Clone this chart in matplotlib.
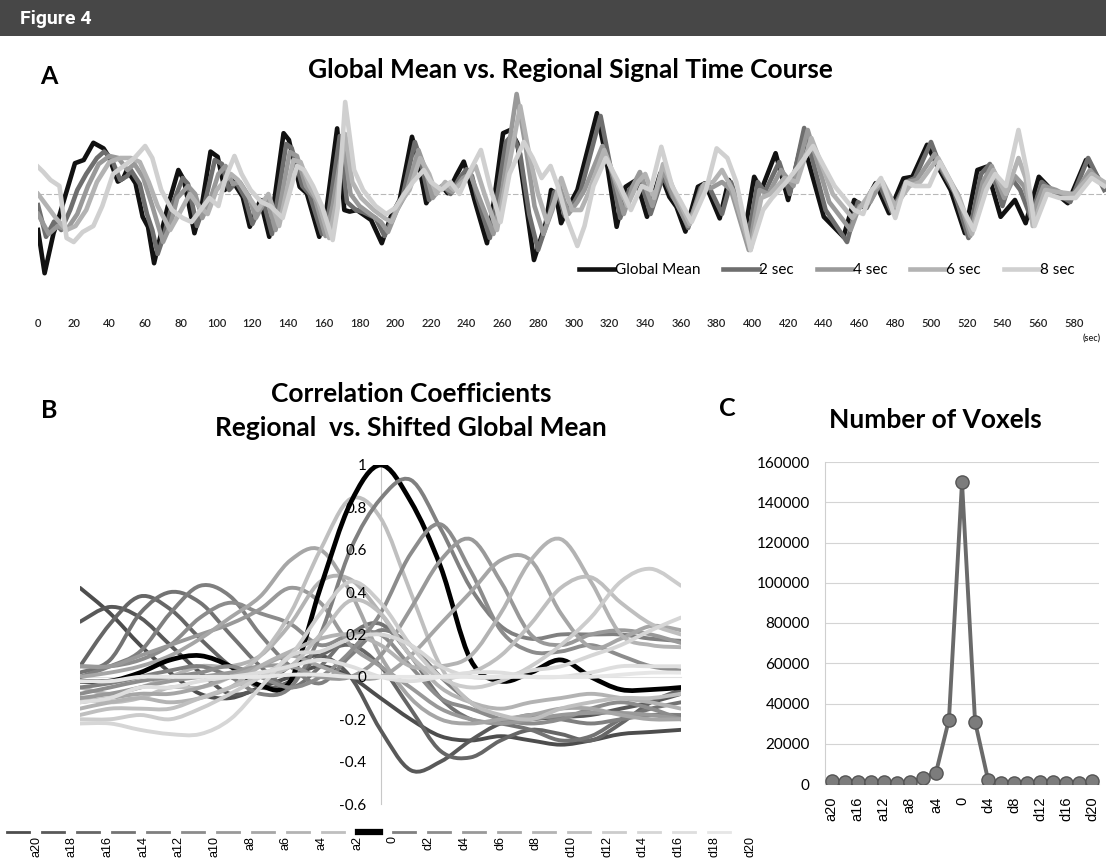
import numpy as np
import matplotlib
matplotlib.use("Agg")
import matplotlib.pyplot as plt
from matplotlib.path import Path
from matplotlib.patches import PathPatch, Rectangle
from matplotlib.lines import Line2D

W, H = 1106, 859

# ---------------- Panel A: time courses (sec, relative signal) ----------------
gm_t = [0, 3.7, 8.7, 10.7, 20.7, 25.6, 31, 36.7, 39.7, 44.7, 47.7, 49.8, 54.6, 58.6, 61.6, 65, 67.6, 72.6,
        78.6, 81.7, 87.6, 91.6, 96.6, 100.6, 104.6, 108.6, 114.6, 118.6, 124.5, 129.5, 137.5, 140.5, 146.5,
        150.5, 157.5, 161.5, 167.5, 171.5, 174.5, 178.5, 186.5, 192.5, 197.5, 202.5, 209.4, 212.4, 217.4,
        221.4, 226.4, 229.4, 234.4, 238.4, 240.4, 244.4, 251.4, 255.4, 260.4, 264.4, 268.4, 277.7, 284.3,
        287.3, 289.8, 292.9, 297, 302, 313, 318, 324, 329, 335, 341, 348.5, 353.5, 357.5, 362.5, 369.5,
        373.5, 381.7, 386.8, 395.9, 401, 405, 413, 420, 428, 440, 451, 457, 462, 469, 476.5, 484.6, 489.6,
        497.8, 503.9, 511, 519, 526, 531, 539, 547, 553, 560.4, 567.5, 576.6, 586.8, 597]
gm_v = [-0.9, -1.98, -0.98, -0.73, 0.77, 0.85, 1.28, 1.14, 0.93, 0.31, 0.39, 0.6, 0.27, -0.57, -0.82, -1.73,
        -1.23, -0.32, 0.6, 0.35, -0.98, -0.32, 1.06, 0.93, 0.1, 0.35, -0.07, -0.82, -0.15, -1.07, 1.52, 1.35,
        0.18, 0.02, -1.07, -0.4, 1.64, -0.4, -0.44, -0.4, -0.65, -1.23, -0.57, -0.15, 1.43, 0.93, -0.23, 0.1,
        0.18, 0.02, 0.48, 0.81, 0.52, -0.15, -1.23, -0.15, 1.52, 1.6, 1.27, -1.65, -0.73, 0.1, 0.02, -0.73,
        -0.32, 0.1, 2.02, 0.93, -0.82, 0.18, 0.35, -0.57, 0.52, -0.07, -0.32, -0.94, 0.18, 0.27, -0.61, 0.35,
        -0.9, 0.43, 0.1, 1.02, -0.15, 1.35, -0.57, -1.07, -0.15, -0.32, 0.27, -0.48, 0.39, 0.43, 1.23, 0.68,
        0.1, -0.98, 0.6, 0.68, -0.57, -0.15, -0.73, 0.43, 0.1, -0.23, 0.85, 0.18]

s2_t = [0, 4.5, 9, 13, 18, 22, 27, 33, 37, 41, 46, 50, 52, 57, 61, 64, 67, 70, 75, 81, 84, 89, 93, 99, 103,
        107, 111, 116, 120, 126, 131, 139, 142, 148, 152, 159, 163, 169, 173, 178, 182, 189, 194, 199, 204,
        211, 214, 219, 223, 228, 231, 236, 240, 243, 246, 253, 257, 262, 266, 270, 275, 280, 286, 289, 292,
        295, 299, 304, 315, 320, 326, 331, 337, 343, 350, 355, 359, 364, 371, 375, 383, 388, 398, 403, 407,
        415, 421, 429, 441, 453, 459, 464, 471, 478, 486, 491, 500, 506, 513, 521, 528, 533, 540, 545, 550,
        556, 562, 569, 578, 588, 597]
s2_v = [-0.28, -1.07, -0.69, -0.9, -0.4, 0.1, 0.5, 0.9, 1.06, 0.9, 0.35, 0.45, 0.6, 0.25, -0.5, -0.9, -1.5,
        -1.1, -0.3, 0.4, 0.25, -0.8, -0.3, 0.85, 0.75, 0.1, 0.3, -0.1, -0.75, -0.15, -1.0, 1.25, 1.15, 0.2,
        0.0, -1.0, -0.4, 1.45, -0.2, -0.4, -0.45, -0.6, -1.05, -0.55, -0.1, 1.3, 0.9, -0.15, 0.1, 0.15, 0.0,
        0.4, 0.62, 0.45, -0.1, -1.1, -0.1, 1.3, 1.5, 1.0, -0.5, -1.4, -0.6, 0.05, -0.1, -0.55, -0.3, 0.1,
        1.95, 0.8, -0.6, 0.1, 0.4, -0.5, 0.45, -0.05, -0.3, -0.85, 0.15, 0.25, -0.5, 0.3, -1.0, 0.3, 0.05,
        0.8, 0.0, 1.65, -0.4, -1.2, -0.2, -0.35, 0.25, -0.45, 0.3, 0.4, 1.3, 0.6, 0.05, -1.1, 0.5, 0.75,
        -0.3, 0.4, 0.1, -0.6, 0.3, 0.05, -0.2, 0.9, 0.1]

s4_t = [0, 6, 11, 16, 22, 28, 34, 40, 45, 50, 54, 59, 64, 70, 74, 78, 84, 88, 92, 96, 101, 105, 109, 113,
        118, 122, 128, 133, 141, 145, 150, 155, 161, 165, 171, 175, 180, 186, 192, 196, 201, 206, 213, 217,
        221, 226, 232, 238, 242, 248, 255, 260, 268, 273, 278, 283, 288, 292, 297, 302, 306, 316, 322, 328,
        333, 337, 344, 350, 356, 364, 372, 377, 383, 388, 398, 404, 409, 416, 423, 431, 443, 455, 460, 466,
        472, 479, 487, 492, 502, 508, 515, 522, 529, 534, 541, 547, 552, 557, 563, 570, 579, 589, 597]
s4_v = [-0.5, -1.0, -0.8, -0.9, -0.5, 0.2, 0.75, 0.95, 0.9, 0.6, 0.75, 0.4, -0.3, -1.2, -0.8, -0.1, 0.2,
        0.0, -0.6, -0.2, 0.5, 0.7, 0.25, 0.3, -0.05, -0.6, -0.1, -0.9, 1.05, 0.95, 0.2, -0.1, -1.05, -0.3,
        1.3, 0.0, -0.3, -0.5, -0.7, -0.95, -0.4, 0.0, 1.1, 0.6, -0.1, 0.2, 0.05, 0.4, 0.5, -0.2, -1.0, 0.1,
        2.5, 1.2, -0.3, -1.0, -0.4, 0.2, -0.5, -0.2, 0.1, 1.2, 0.5, -0.5, 0.2, 0.55, -0.3, 0.6, -0.1, -0.8,
        0.2, 0.15, 0.3, 0.1, -1.4, 0.1, 0.0, 0.6, 0.2, 1.6, -0.2, -0.9, -0.3, -0.2, 0.3, -0.4, 0.3, 0.35,
        1.0, 0.5, 0.0, -1.05, 0.3, 0.7, -0.1, 0.45, 0.2, -0.5, 0.2, 0.1, -0.1, 0.6, 0.2]

s6_t = [0, 5, 10, 16, 21, 27, 33, 40, 46, 52, 57, 62, 67, 74, 79, 85, 90, 95, 100, 104, 108, 112, 117, 123,
        129, 135, 143, 147, 152, 157, 163, 167, 172, 176, 181, 188, 194, 198, 203, 208, 214, 219, 223, 228,
        233, 239, 245, 250, 257, 262, 270, 275, 280, 285, 289, 293, 299, 304, 308, 317, 323, 330, 336, 340,
        345, 350, 357, 365, 373, 378, 383, 389, 399, 405, 410, 418, 425, 433, 445, 456, 461, 467, 473, 480,
        488, 494, 504, 510, 516, 523, 530, 535, 542, 549, 553, 557, 564, 571, 580, 590, 597]
s6_v = [0.0, -0.3, -0.6, -0.9, -0.8, -0.4, 0.3, 0.8, 0.9, 0.9, 0.8, 0.3, -0.3, -0.9, -0.5, 0.0, -0.3, -0.5,
        0.1, 0.3, 0.5, 0.35, 0.0, -0.4, 0.0, -0.8, 0.85, 0.8, 0.2, -0.2, -1.1, -0.2, 1.5, 0.3, -0.1, -0.4,
        -0.6, -0.7, -0.2, 0.1, 0.9, 0.5, 0.0, 0.3, 0.1, 0.35, 0.7, 0.0, -0.9, 0.3, 2.2, 1.0, 0.0, -0.7, -0.2,
        0.4, -0.4, -0.4, 0.0, 1.1, 0.4, -0.3, 0.3, 0.5, -0.1, 0.75, 0.0, -0.75, 0.25, 0.3, 0.6, 0.1, -1.4,
        -0.1, 0.0, 0.4, 0.3, 1.4, 0.0, -0.6, -0.3, 0.1, 0.3, -0.3, 0.2, 0.3, 0.9, 0.4, -0.1, -1.0, 0.2, 0.6,
        0.0, 0.9, 0.4, -0.8, 0.1, 0.05, 0.0, 0.5, 0.3]

s8_t = [0, 3, 7, 12, 16, 20, 25, 31, 36, 42, 48, 54, 60, 64, 69, 75, 81, 86, 91, 96, 101, 105, 110, 114, 119,
        125, 130, 137, 145, 149, 154, 159, 165, 168, 172, 177, 182, 189, 195, 200, 205, 210, 216, 220, 226,
        231, 236, 241, 248, 253, 259, 264, 272, 277, 282, 287, 291, 296, 302, 306, 311, 318, 325, 332, 338,
        343, 349, 355, 360, 366, 374, 380, 386, 391, 399, 406, 411, 419, 426, 434, 446, 457, 462, 467, 472,
        480, 486, 491, 499, 505, 511, 517, 524, 531, 536, 542, 549, 554, 558, 565, 572, 581, 590, 597]
s8_v = [0.68, 0.55, 0.35, 0.2, -1.1, -1.2, -0.95, -0.8, -0.3, 0.5, 0.7, 0.9, 1.2, 0.9, 0.1, -0.4, -0.6, -0.7,
        -0.4, -0.1, -0.3, 0.4, 0.95, 0.5, 0.1, -0.2, -0.3, -0.6, 0.7, 0.6, 0.2, -0.3, -1.15, -0.3, 2.3, 0.6,
        0.1, -0.3, -0.5, -0.35, 0.0, 0.3, 0.6, 0.3, 0.1, 0.3, 0.0, 0.5, 1.1, 0.2, -0.7, 0.5, 1.3, 0.9, 0.4,
        0.7, 0.2, -0.6, -1.3, -0.8, 0.2, 0.9, 0.3, -0.4, 0.2, 0.1, 1.18, 0.2, -0.2, -0.7, 0.1, 1.14, 0.9,
        0.3, -1.4, -0.4, -0.1, 0.3, 0.7, 1.2, 0.2, -0.4, -0.5, 0.1, 0.4, -0.6, 0.3, 0.2, 0.2, 0.8, 0.3, -0.3,
        -0.9, 0.1, 0.5, 0.2, 1.6, 0.5, -0.8, 0.0, -0.1, -0.1, 0.4, 0.2]

a_names = ["Global Mean", "2 sec", "4 sec", "6 sec", "8 sec"]
a_colors = ["#111111", "#6e6e6e", "#999999", "#b3b3b3", "#d0d0d0"]
a_ticks = list(range(0, 600, 20))

# ---------------- Panel B: correlation vs. shift ----------------
shifts = list(range(-20, 21, 2))
b_names = ["a20", "a18", "a16", "a14", "a12", "a10", "a8", "a6", "a4", "a2", "0",
           "d2", "d4", "d6", "d8", "d10", "d12", "d14", "d16", "d18", "d20"]
b_colors = ["#4d4d4d", "#595959", "#666666", "#737373", "#7f7f7f", "#8c8c8c", "#999999", "#a6a6a6",
            "#b3b3b3", "#bfbfbf", "#000000", "#808080", "#8c8c8c", "#999999", "#a6a6a6", "#b3b3b3",
            "#bfbfbf", "#cccccc", "#d6d6d6", "#dedede", "#e6e6e6"]
b_vals = [
    [0.42, 0.3, 0.15, 0.02, -0.08, -0.1, -0.05, 0.0, 0.05, 0.0, -0.1, -0.2, -0.28, -0.3, -0.28, -0.3, -0.32, -0.3, -0.27, -0.26, -0.25],
    [0.26, 0.33, 0.28, 0.15, 0.02, -0.08, -0.05, 0.05, 0.1, 0.0, -0.25, -0.44, -0.4, -0.3, -0.22, -0.2, -0.19, -0.18, -0.15, -0.12, -0.08],
    [0.05, 0.25, 0.38, 0.32, 0.18, 0.05, -0.05, -0.02, 0.1, 0.15, 0.05, -0.15, -0.35, -0.38, -0.3, -0.25, -0.27, -0.3, -0.22, -0.12, -0.06],
    [0.02, 0.08, 0.3, 0.4, 0.35, 0.2, 0.05, -0.05, 0.05, 0.2, 0.25, 0.1, -0.1, -0.2, -0.22, -0.25, -0.3, -0.28, -0.2, -0.15, -0.12],
    [0.0, 0.05, 0.12, 0.3, 0.43, 0.38, 0.2, 0.05, -0.03, 0.1, 0.22, 0.15, 0.0, -0.12, -0.2, -0.18, -0.2, -0.22, -0.2, -0.18, -0.18],
    [0.05, 0.05, 0.08, 0.15, 0.28, 0.35, 0.3, 0.25, 0.15, 0.2, 0.2, 0.05, -0.1, -0.15, -0.2, -0.22, -0.2, -0.15, -0.12, -0.15, -0.2],
    [0.05, 0.05, 0.1, 0.15, 0.2, 0.25, 0.32, 0.42, 0.35, 0.15, 0.05, -0.05, -0.15, -0.2, -0.22, -0.2, -0.18, -0.17, -0.17, -0.18, -0.2],
    [0.0, 0.02, 0.05, 0.1, 0.18, 0.28, 0.38, 0.55, 0.6, 0.4, 0.1, -0.1, -0.2, -0.22, -0.2, -0.18, -0.15, -0.15, -0.18, -0.2, -0.2],
    [-0.05, -0.08, -0.05, 0.0, 0.05, 0.05, 0.1, 0.25, 0.45, 0.46, 0.3, 0.1, -0.05, -0.12, -0.15, -0.12, -0.1, -0.08, -0.1, -0.12, -0.15],
    [-0.1, -0.12, -0.1, -0.05, -0.05, 0.0, 0.1, 0.3, 0.6, 0.84, 0.75, 0.4, 0.05, -0.12, -0.18, -0.2, -0.15, -0.12, -0.1, -0.1, -0.08],
    [-0.02, -0.02, 0.02, 0.08, 0.1, 0.05, -0.04, -0.02, 0.42, 0.82, 1.0, 0.83, 0.52, 0.08, -0.02, 0.02, 0.08, 0.0, -0.06, -0.06, -0.05],
    [-0.05, -0.03, 0.0, 0.03, 0.05, 0.0, -0.08, -0.05, 0.2, 0.6, 0.84, 0.93, 0.7, 0.42, 0.24, 0.18, 0.2, 0.2, 0.2, 0.18, 0.17],
    [-0.08, -0.05, -0.02, 0.0, 0.02, 0.05, 0.0, -0.05, 0.0, 0.12, 0.3, 0.58, 0.72, 0.5, 0.22, 0.12, 0.12, 0.15, 0.1, 0.05, 0.03],
    [-0.1, -0.08, -0.05, -0.02, 0.0, 0.02, 0.05, 0.05, 0.0, 0.0, 0.1, 0.32, 0.55, 0.65, 0.45, 0.2, 0.15, 0.2, 0.22, 0.2, 0.16],
    [-0.12, -0.1, -0.08, -0.08, -0.05, 0.0, 0.05, 0.1, 0.05, 0.0, 0.0, 0.1, 0.25, 0.4, 0.55, 0.55, 0.3, 0.14, 0.18, 0.24, 0.22],
    [-0.15, -0.12, -0.1, -0.12, -0.1, -0.05, 0.05, 0.12, 0.18, 0.2, 0.15, 0.05, 0.05, 0.1, 0.3, 0.55, 0.65, 0.45, 0.2, 0.15, 0.14],
    [-0.18, -0.15, -0.15, -0.15, -0.1, -0.05, 0.0, 0.05, 0.2, 0.36, 0.3, 0.1, 0.0, 0.02, 0.1, 0.25, 0.42, 0.47, 0.35, 0.25, 0.2],
    [-0.2, -0.2, -0.18, -0.2, -0.15, -0.08, 0.0, 0.1, 0.3, 0.45, 0.35, 0.15, 0.0, -0.05, -0.02, 0.05, 0.15, 0.28, 0.45, 0.51, 0.43],
    [-0.22, -0.22, -0.25, -0.27, -0.27, -0.2, -0.05, 0.1, 0.12, 0.18, 0.2, 0.15, 0.05, 0.0, 0.0, 0.03, 0.05, 0.1, 0.15, 0.22, 0.28],
    [-0.12, -0.1, -0.05, -0.05, -0.02, 0.0, 0.02, 0.05, 0.08, 0.05, 0.0, -0.02, 0.0, 0.02, 0.02, 0.0, 0.0, 0.02, 0.05, 0.05, 0.05],
    [-0.02, -0.02, 0.0, 0.0, 0.0, 0.0, 0.0, 0.01, 0.01, 0.0, 0.0, 0.0, 0.0, 0.0, 0.0, 0.0, 0.0, 0.0, 0.01, 0.02, 0.02],
]
b_yticks = [-0.6, -0.4, -0.2, 0, 0.2, 0.4, 0.6, 0.8, 1.0]
b_yticklabels = ["-0.6", "-0.4", "-0.2", "0", "0.2", "0.4", "0.6", "0.8", "1"]

# ---------------- Panel C: number of voxels ----------------
c_cats = b_names
c_vals = [1500, 1000, 1200, 800, 1200, 500, 800, 3000, 5500, 32000, 150000, 31000, 2000, 500, 500, 500,
          800, 1000, 600, 500, 1500]
c_yticks = list(range(0, 160001, 20000))


def rect(x0, y0, x1, y1):
    return [x0 / W, 1 - y1 / H, (x1 - x0) / W, (y1 - y0) / H]


def smooth(xs, ys):
    # Excel style smoothed line (Catmull-Rom -> cubic Bezier)
    p = np.column_stack([xs, ys]).astype(float)
    n = len(p)
    verts, codes = [p[0]], [Path.MOVETO]
    for i in range(n - 1):
        p0 = p[i - 1] if i > 0 else p[i]
        p3 = p[i + 2] if i + 2 < n else p[i + 1]
        c1 = p[i] + (p[i + 1] - p0) / 6
        c2 = p[i + 1] - (p3 - p[i]) / 6
        verts += [c1, c2, p[i + 1]]
        codes += [Path.CURVE4] * 3
    return Path(verts, codes)


plt.rcParams['font.family'] = ['Lato', 'DejaVu Sans']
fig = plt.figure(figsize=(W / 100, H / 100), dpi=100)
TITLE = 19

# banner
fig.patches.append(Rectangle((0, 1 - 36 / H), 1, 36 / H, transform=fig.transFigure,
                             facecolor="#474747", edgecolor="none"))
fig.text(20 / W, 1 - 19 / H, "Figure 4", color="white", fontsize=14, fontweight="bold",
         family="Roboto", ha="left", va="center")

# ---- A ----
axA = fig.add_axes(rect(38, 88, 1106, 310))
series_a = [(gm_t, gm_v), (s2_t, s2_v), (s4_t, s4_v), (s6_t, s6_v), (s8_t, s8_v)]
for (t, v), name, col in zip(series_a, a_names, a_colors):
    axA.plot(t, v, color=col, lw=3.3, label=name, solid_joinstyle="round")
axA.axhline(0, color="#b8b8b8", lw=0.8, ls=(0, (5, 2)), zorder=0.5)
axA.set_xlim(0, 598)
axA.set_ylim(-2.9, 2.65)
axA.set_xticks(a_ticks)
axA.set_xticklabels([str(v) for v in a_ticks], fontsize=8, fontweight="semibold", color="#222222")
axA.tick_params(axis="x", length=0, pad=6)
axA.set_yticks([])
for s in axA.spines.values():
    s.set_visible(False)
fig.legend(*axA.get_legend_handles_labels(), loc="center right", bbox_to_anchor=(1088 / W, 1 - 270 / H),
           ncol=5, frameon=False, fontsize=11, handlelength=2.3, handletextpad=0.05, columnspacing=1.5)
fig.text(1092 / W, 1 - 339 / H, "(sec)", fontsize=6.5, fontweight="semibold", ha="center", va="center",
         color="#222222")
fig.text(570 / W, 1 - 70 / H, "Global Mean vs. Regional Signal Time Course", fontsize=TITLE,
         fontweight="bold", ha="center", va="center")
fig.text(49 / W, 1 - 76 / H, "A", fontsize=18, fontweight="bold", ha="center", va="center")

# ---- B ----
axB = fig.add_axes(rect(80, 465, 681, 804))
for vals, col in zip(b_vals, b_colors):
    axB.add_patch(PathPatch(smooth(shifts, vals), fill=False, edgecolor=col,
                            lw=3.4 if col == "#000000" else 2.8, capstyle="round", joinstyle="round"))
axB.set_xlim(-20, 20)
axB.set_ylim(-0.6, 1.0)
axB.spines["left"].set_position(("data", 0))
axB.spines["bottom"].set_position(("data", 0))
axB.spines["left"].set_color("#c8c8c8")
axB.spines["bottom"].set_color("#e2e2e2")
axB.spines["left"].set_zorder(0.5)
axB.spines["bottom"].set_zorder(0.5)
axB.spines["top"].set_visible(False)
axB.spines["right"].set_visible(False)
axB.set_xticks([])
axB.set_yticks(b_yticks)
axB.set_yticklabels(b_yticklabels, fontsize=11)
axB.tick_params(axis="y", length=0, pad=10)
axB.patch.set_visible(False)
fig.text(411 / W, 1 - 394 / H, "Correlation Coefficients", fontsize=TITLE, fontweight="bold",
         ha="center", va="center")
fig.text(411 / W, 1 - 428 / H, "Regional  vs. Shifted Global Mean", fontsize=TITLE, fontweight="bold",
         ha="center", va="center")
fig.text(49 / W, 1 - 410 / H, "B", fontsize=18, fontweight="bold", ha="center", va="center")

# legend of B: keys with rotated labels
for i, (name, col) in enumerate(zip(b_names, b_colors)):
    xs = 18 + 35.05 * i
    fig.add_artist(Line2D([(xs - 11) / W, (xs + 11) / W], [1 - 832 / H, 1 - 832 / H],
                          color=col, lw=4.5 if name == "0" else 2.0, transform=fig.transFigure))
    fig.text((36 + 35.7 * i) / W, 1 - 836 / H, name, rotation=90, fontsize=9,
             family="Liberation Sans", ha="center", va="top")

# ---- C ----
axC = fig.add_axes(rect(825, 462, 1099, 784))
axC.plot(range(len(c_vals)), c_vals, color="#6a6a6a", lw=2.8, marker="o", markersize=9.5,
         markerfacecolor="#7c7c7c", markeredgecolor="#555555", markeredgewidth=1.0, zorder=3)
axC.set_xlim(-0.5, 20.5)
axC.set_ylim(0, 160000)
axC.set_yticks(c_yticks)
axC.set_yticklabels([str(v) for v in c_yticks], fontsize=11)
axC.set_xticks(range(0, 21, 2))
axC.set_xticklabels(c_cats[::2], rotation=90, fontsize=10.5, family="Liberation Sans")
axC.tick_params(axis="y", length=0, pad=11)
axC.tick_params(axis="x", length=0, pad=9)
axC.grid(axis="y", color="#d4d4d4", lw=0.8)
axC.set_axisbelow(True)
for k in ["top", "right"]:
    axC.spines[k].set_visible(False)
axC.spines["left"].set_color("#cfcfcf")
axC.spines["bottom"].set_color("#cfcfcf")
fig.text(935 / W, 1 - 420 / H, "Number of Voxels", fontsize=TITLE, fontweight="bold",
         ha="center", va="center")
fig.text(727 / W, 1 - 408 / H, "C", fontsize=18, fontweight="bold", ha="center", va="center")

fig.savefig("out.png", dpi=100)
